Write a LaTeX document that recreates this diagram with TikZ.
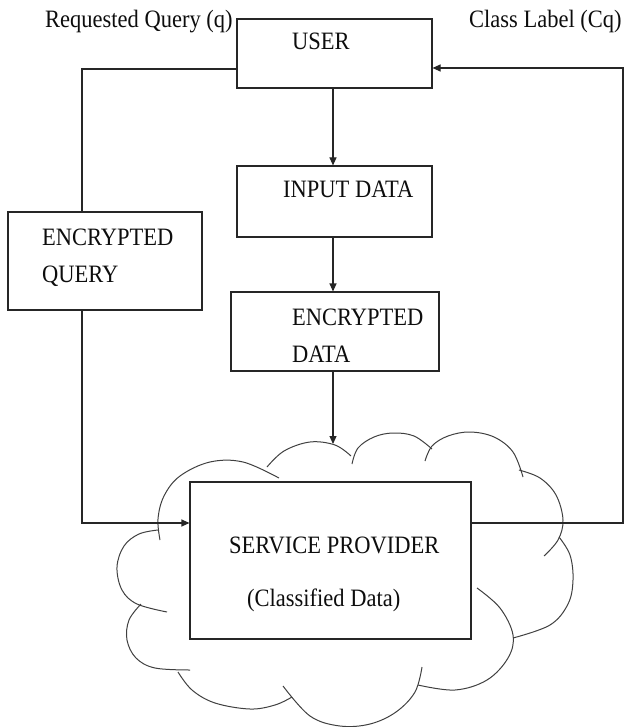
\documentclass[tikz,border=0pt]{standalone}
\usepackage{fontspec}
\setmainfont{Liberation Serif}[FakeStretch=0.9]
\usetikzlibrary{arrows.meta}
\tikzset{
  box/.style={draw=black!85, line width=1.1pt, rectangle, inner sep=0pt},
  lbl/.style={anchor=base west, inner sep=0pt, font=\fontsize{25}{30}\selectfont, text=black!95},
  wire/.style={draw=black!85, line width=1.1pt},
  arr/.style={wire, -{Triangle[length=8pt,width=7pt]}},
  puff/.style={draw=black!75, line width=1pt, smooth, tension=0.6},
}
\begin{document}
\begin{tikzpicture}[x=1pt,y=-1pt]
\useasboundingbox (0,0) rectangle (624,727);

% boxes
\node[box, minimum width=195pt, minimum height=69pt] (user)  at (334.5,53.5) {};
\node[box, minimum width=195pt, minimum height=71pt] (input) at (334.5,201.5) {};
\node[box, minimum width=194pt, minimum height=98pt] (encq)  at (105,261) {};
\node[box, minimum width=208pt, minimum height=79pt] (encd)  at (335,331.5) {};
\node[box, minimum width=281pt, minimum height=157pt] (sp)   at (330.5,560.5) {};

% texts
\node[lbl] (treq)  at (45,28)   {Requested Query (q)};
\node[lbl] (tcls)  at (469,28)  {Class Label (Cq)};
\node[lbl] (tuser) at (292,50)  {USER};
\node[lbl] (tin)   at (283,198) {INPUT DATA};
\node[lbl] (teq1)  at (42,245)  {ENCRYPTED};
\node[lbl] (teq2)  at (42,282)  {QUERY};
\node[lbl] (ted1)  at (292,325) {ENCRYPTED};
\node[lbl] (ted2)  at (292,362) {DATA};
\node[lbl] (tsp1)  at (229,553) {SERVICE PROVIDER};
\node[lbl] (tsp2)  at (247,606) {(Classified Data)};

% cloud around the service provider
\draw[puff] plot coordinates {(160,540) (158,519) (164,496) (180,476) (210,462) (243,462) (279,478)};
\draw[puff] plot coordinates {(267,467) (284,451) (310,442) (335,445) (351,456)};
\draw[puff] plot coordinates {(352,464) (358,448) (374,437) (393,433) (414,436) (432,449)};
\draw[puff] plot coordinates {(425,461) (432,446) (448,436) (470,432) (494,437) (513,452) (523,477)};
\draw[puff] plot coordinates {(519,470) (540,478) (556,495) (563,520) (558,540) (544,556)};
\draw[puff] plot coordinates {(559,537) (570,555) (573,580) (568,604) (550,625) (513,638)};
\draw[puff] plot coordinates {(477,588) (500,608) (513,635) (508,658) (487,680) (455,690) (418,685)};
\draw[puff] plot coordinates {(422,667) (415,692) (396,712) (370,724) (340,726) (310,716) (283,686)};
\draw[puff] plot coordinates {(178,672) (192,690) (215,703) (250,709) (275,705) (292,697)};
\draw[puff] plot coordinates {(141,604) (129,620) (127,640) (136,658) (155,668) (190,670)};
\draw[puff] plot coordinates {(158,530) (139,534) (124,546) (117,567) (122,590) (137,604) (167,612)};

% connectors
\coordinate (qtop) at (82,69);
\coordinate (qlow) at (82,523);
\coordinate (cbot) at (623,523);
\coordinate (ctop) at (623,68);
\coordinate (cloudtop) at (333,444);

\draw[wire] (user.west |- qtop) -- (qtop) -- (encq.north -| qtop);
\draw[arr] (encq.south -| qtop) -- (qlow) -- (sp.west |- qlow);
\draw[arr] (sp.east |- cbot) -- (cbot) -- (ctop) -- (user.east |- ctop);
\draw[arr] (user.south -| cloudtop) -- (input.north -| cloudtop);
\draw[arr] (input.south -| cloudtop) -- (encd.north -| cloudtop);
\draw[arr] (encd.south -| cloudtop) -- (cloudtop);
\end{tikzpicture}
\end{document}
